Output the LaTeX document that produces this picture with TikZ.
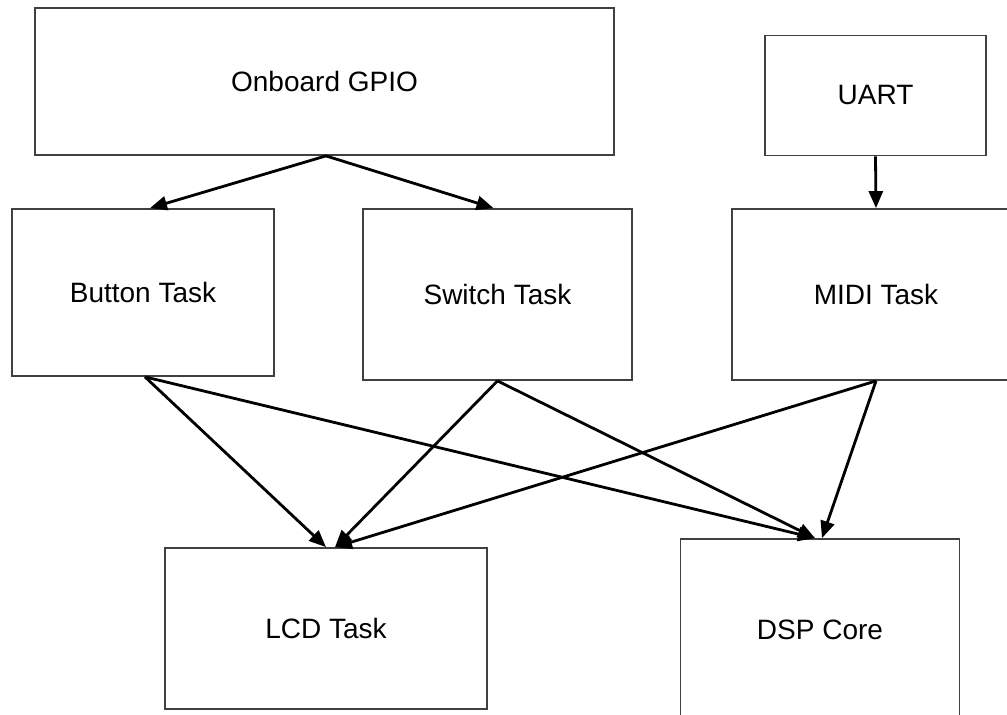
\documentclass[tikz,border=0pt]{standalone}
\usepackage{fontspec}
\setmainfont{Liberation Sans}
\usetikzlibrary{arrows.meta}
\begin{document}
\begin{tikzpicture}[x=1pt,y=-1pt,
  box/.style={draw=black!75,line width=1.8pt,fill=none,inner sep=0pt,
    font=\fontsize{28}{33}\selectfont},
  conn/.style={line width=2.8pt,-{Triangle[length=17pt,width=14pt]}}]
\useasboundingbox (0,0) rectangle (1007,715);
\node[box,minimum width=579pt,minimum height=147pt] (gpio) at (324.5,81.5) {Onboard GPIO};
\node[box,minimum width=221pt,minimum height=120pt] (uart) at (875.5,95.5) {UART};
\node[box,minimum width=262pt,minimum height=167pt] (btn) at (143,292.5) {Button Task};
\node[box,minimum width=269pt,minimum height=171pt] (sw) at (497.5,294.5) {Switch Task};
\node[box,minimum width=288pt,minimum height=171pt] (midi) at (876,294.5) {MIDI Task};
\node[box,minimum width=322pt,minimum height=161pt] (lcd) at (326,628.5) {LCD Task};
\node[box,minimum width=279pt,minimum height=182pt] (dsp) at (820,630) {DSP Core};
\draw[conn] ([xshift=1.5pt]gpio.south) -- ([xshift=7pt]btn.north);
\draw[conn] ([xshift=1.5pt]gpio.south) -- ([xshift=-4pt]sw.north);
\draw[conn] (uart.south) -- (midi.north);
\draw[conn] ([xshift=2pt]btn.south) -- ([xshift=0pt]lcd.north);
\draw[conn] ([xshift=2pt]btn.south) -- ([xshift=-5pt]dsp.north);
\draw[conn] (sw.south) -- ([xshift=9pt]lcd.north);
\draw[conn] (sw.south) -- ([xshift=-5pt]dsp.north);
\draw[conn] (midi.south) -- ([xshift=9pt]lcd.north);
\draw[conn] (midi.south) -- ([xshift=2pt]dsp.north);
\end{tikzpicture}
\end{document}
